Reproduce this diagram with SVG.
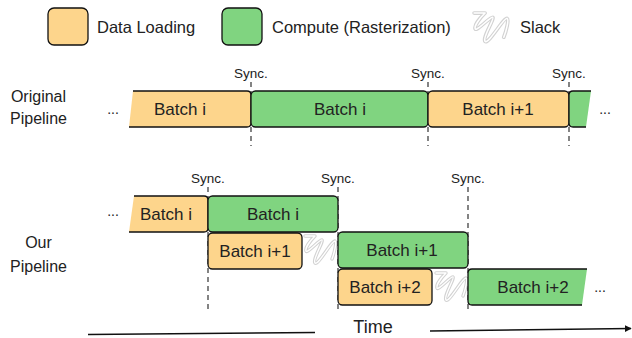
<svg xmlns="http://www.w3.org/2000/svg" width="632" height="338" viewBox="0 0 632 338">
  <defs>
    <style>
      .t { font-family: "Liberation Sans", Arial, sans-serif; fill: #222; }
      .lbl { font-size: 16.5px; }
      .b { font-size: 17px; text-anchor: middle; }
      .s { font-size: 13.5px; text-anchor: middle; }
      .side { font-size: 16px; text-anchor: middle; }
      .load { fill: #FDD58C; }
      .comp { fill: #80D480; }
      .edge { fill: none; stroke: #111; stroke-width: 1.3; }
      .box { stroke: #111; stroke-width: 1.3; }
      .sync { stroke: #333; stroke-width: 1.2; stroke-dasharray: 5 4; fill: none; }
      .dots { font-size: 14px; text-anchor: middle; }
      .sq-out { fill: none; stroke: #d2d2d2; stroke-width: 3.4; stroke-linecap: round; stroke-linejoin: round; }
      .sq-in { fill: none; stroke: #ffffff; stroke-width: 1.4; stroke-linecap: round; stroke-linejoin: round; }
    </style>
    <path id="sqpath" d="M1,2 L11,2 C6,7 1,14 2,17 C3,20 16,5 18,6 C20,7 8,26 11,29 C14,32 28,6 31,7 C33,8 30,20 28,25"/>
    <g id="squiggle">
      <use href="#sqpath" class="sq-out"/>
      <use href="#sqpath" class="sq-in"/>
    </g>
    <marker id="arrow" viewBox="0 0 10 10" refX="9" refY="5" markerWidth="7" markerHeight="7" orient="auto" markerUnits="userSpaceOnUse">
      <path d="M0,0 L10,5 L0,10 Z" fill="#111"/>
    </marker>
  </defs>

  <!-- Legend -->
  <g id="legend-loading">
    <rect x="48" y="8" width="40" height="37" rx="6" class="load box"/>
    <text x="97" y="33" class="t lbl">Data Loading</text>
  </g>
  <g id="legend-compute">
    <rect x="222" y="8" width="40" height="37" rx="6" class="comp box"/>
    <text x="272" y="33" class="t lbl">Compute (Rasterization)</text>
  </g>
  <g id="legend-slack">
    <use href="#squiggle" transform="translate(473,11) scale(1.1,1.05)"/>
    <text x="520" y="33" class="t lbl">Slack</text>
  </g>

  <!-- Side labels -->
  <g id="label-original">
    <text x="38.5" y="102" class="t side">Original</text>
    <text x="38.5" y="124" class="t side">Pipeline</text>
  </g>
  <g id="label-ours">
    <text x="38.5" y="248" class="t side">Our</text>
    <text x="38.5" y="272" class="t side">Pipeline</text>
  </g>

  <!-- Connectors: sync lines and time axis -->
  <g id="connectors">
    <line x1="251" y1="82" x2="251" y2="146" class="sync"/>
    <line x1="428" y1="82" x2="428" y2="146" class="sync"/>
    <line x1="569" y1="82" x2="569" y2="146" class="sync"/>
    <line x1="208" y1="187" x2="208" y2="313" class="sync"/>
    <line x1="338" y1="187" x2="338" y2="313" class="sync"/>
    <line x1="468" y1="187" x2="468" y2="313" class="sync"/>
    <line x1="88" y1="334.5" x2="315" y2="332.5" stroke="#111" stroke-width="1.4"/>
    <line x1="430" y1="331" x2="631" y2="328.5" stroke="#111" stroke-width="1.4" marker-end="url(#arrow)"/>
  </g>

  <!-- Sync labels -->
  <g id="sync-labels">
    <text x="251" y="78" class="t s">Sync.</text>
    <text x="428" y="78" class="t s">Sync.</text>
    <text x="569" y="78" class="t s">Sync.</text>
    <text x="208" y="183" class="t s">Sync.</text>
    <text x="338" y="183" class="t s">Sync.</text>
    <text x="468" y="183" class="t s">Sync.</text>
  </g>

  <!-- Original pipeline -->
  <text x="113" y="114" class="t dots">...</text>
  <g id="orig-load-i">
    <path d="M133,91 L247,91 Q251,91 251,95 L251,123 Q251,127 247,127 L129,127 Z" class="load"/>
    <path d="M133,91 L247,91 Q251,91 251,95 L251,123 Q251,127 247,127 L129,127" class="edge"/>
    <text x="180" y="115" class="t b">Batch i</text>
  </g>
  <g id="orig-comp-i">
    <rect x="251" y="91" width="177" height="36" rx="4.5" class="comp box"/>
    <text x="340" y="115" class="t b">Batch i</text>
  </g>
  <g id="orig-load-i1">
    <rect x="428" y="91" width="141" height="36" rx="4.5" class="load box"/>
    <text x="498" y="115" class="t b">Batch i+1</text>
  </g>
  <g id="orig-comp-i1">
    <path d="M573,91 L591,91 L586,127 L573,127 Q569,127 569,123 L569,95 Q569,91 573,91 Z" class="comp"/>
    <path d="M591,91 L573,91 Q569,91 569,95 L569,123 Q569,127 573,127 L586,127" class="edge"/>
  </g>
  <text x="605" y="114" class="t dots">...</text>

  <!-- Our pipeline -->
  <text x="113" y="216" class="t dots">...</text>
  <g id="our-load-i">
    <path d="M134,196 L204,196 Q208,196 208,200 L208,228 Q208,232 204,232 L129,232 Z" class="load"/>
    <path d="M134,196 L204,196 Q208,196 208,200 L208,228 Q208,232 204,232 L129,232" class="edge"/>
    <text x="166" y="220" class="t b">Batch i</text>
  </g>
  <g id="our-comp-i">
    <rect x="208" y="196" width="130" height="36" rx="4.5" class="comp box"/>
    <text x="273" y="220" class="t b">Batch i</text>
  </g>
  <g id="our-load-i1">
    <rect x="208" y="233" width="94" height="36" rx="4.5" class="load box"/>
    <text x="255" y="257" class="t b">Batch i+1</text>
  </g>
  <g id="slack-1">
    <use href="#squiggle" transform="translate(304,234)"/>
  </g>
  <g id="our-comp-i1">
    <rect x="338" y="232" width="130" height="36" rx="4.5" class="comp box"/>
    <text x="402" y="256" class="t b">Batch i+1</text>
  </g>
  <g id="our-load-i2">
    <rect x="338" y="269" width="94" height="36" rx="4.5" class="load box"/>
    <text x="385" y="293" class="t b">Batch i+2</text>
  </g>
  <g id="slack-2">
    <use href="#squiggle" transform="translate(435,271)"/>
  </g>
  <g id="our-comp-i2">
    <path d="M587,269 L472,269 Q468,269 468,273 L468,301 Q468,305 472,305 L582,305 Z" class="comp"/>
    <path d="M587,269 L472,269 Q468,269 468,273 L468,301 Q468,305 472,305 L582,305" class="edge"/>
    <text x="533" y="293" class="t b">Batch i+2</text>
  </g>
  <text x="600" y="292" class="t dots">...</text>

  <!-- Time label -->
  <g id="time-label">
    <text x="373" y="333" class="t" font-size="18" text-anchor="middle">Time</text>
  </g>
</svg>
